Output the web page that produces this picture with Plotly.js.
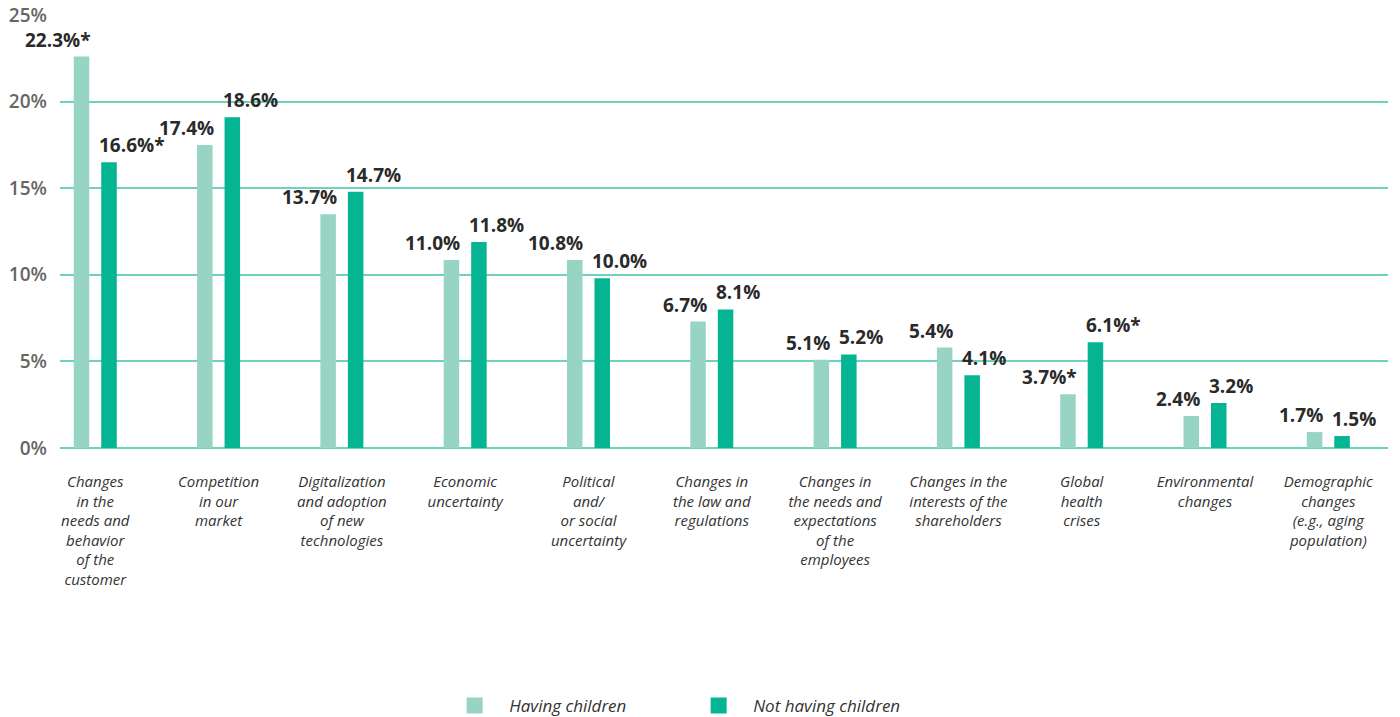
<!DOCTYPE html>
<html>
<head>
<meta charset="utf-8">
<script src="https://cdn.plot.ly/plotly-3.0.1.min.js"></script>
<style>
  html, body { margin: 0; padding: 0; background: #ffffff; }
  #chart { width: 1400px; height: 717px; }
</style>
</head>
<body>
<div id="chart"></div>
<script>
// ---- data ----
const categories = [
  "Changes<br>in the<br>needs and<br>behavior<br>of the<br>customer",
  "Competition<br>in our<br>market",
  "Digitalization<br>and adoption<br>of new<br>technologies",
  "Economic<br>uncertainty",
  "Political<br>and/<br>or social<br>uncertainty",
  "Changes in<br>the law and<br>regulations",
  "Changes in<br>the needs and<br>expectations<br>of the<br>employees",
  "Changes in the<br>interests of the<br>shareholders",
  "Global<br>health<br>crises",
  "Environmental<br>changes",
  "Demographic<br>changes<br>(e.g., aging<br>population)"
];
// bar heights as drawn in the picture (%)
const havingChildren    = [22.6, 17.5, 13.5, 10.85, 10.85, 7.3, 5.1, 5.8, 3.1, 1.85, 0.92];
const notHavingChildren = [16.5, 19.1, 14.8, 11.9, 9.8, 8.0, 5.4, 4.2, 6.1, 2.6, 0.69];
// value labels as printed
const havingLabels    = ["22.3%*", "17.4%", "13.7%", "11.0%", "10.8%", "6.7%", "5.1%", "5.4%", "3.7%*", "2.4%", "1.7%"];
const notHavingLabels = ["16.6%*", "18.6%", "14.7%", "11.8%", "10.0%", "8.1%", "5.2%", "4.1%", "6.1%*", "3.2%", "1.5%"];
const seriesNames = ["Having children", "Not having children"];
const yTickValues = [0, 5, 10, 15, 20, 25];
const yTickLabels = ["0%", "5%", "10%", "15%", "20%", "25%"];

// ---- styles ----
const lightColor = "#98d4c4";
const darkColor  = "#04b492";
const gridColor  = "#6fd2bc";
const FONT = "'Open Sans', Lato, 'Noto Sans', 'DejaVu Sans', sans-serif";

const traces = [
  { type: "bar", x: categories, y: havingChildren, marker: { color: lightColor }, showlegend: false, hoverinfo: "skip" },
  { type: "bar", x: categories, y: notHavingChildren, marker: { color: darkColor }, showlegend: false, hoverinfo: "skip" },
  { type: "scatter", mode: "markers", x: [null], y: [null], name: seriesNames[0],
    marker: { symbol: "square", size: 19, color: lightColor } },
  { type: "scatter", mode: "markers", x: [null], y: [null], name: seriesNames[1],
    marker: { symbol: "square", size: 19, color: darkColor } }
];

const labelFont = { family: FONT, size: 19, color: "#2a2a2a", weight: 700 };
const annotations = [];
categories.forEach((c, i) => {
  annotations.push({ x: c, y: havingChildren[i], xref: "x", yref: "y", text: havingLabels[i],
    showarrow: false, xanchor: "right", yanchor: "bottom", xshift: -3, yshift: 2, font: labelFont });
  annotations.push({ x: c, y: notHavingChildren[i], xref: "x", yref: "y", text: notHavingLabels[i],
    showarrow: false, xanchor: "left", yanchor: "bottom", xshift: 2, yshift: 2, font: labelFont });
});

const layout = {
  width: 1400, height: 717,
  margin: { l: 60, r: 12, t: 15, b: 269, autoexpand: false },
  paper_bgcolor: "#ffffff", plot_bgcolor: "#ffffff",
  font: { family: FONT },
  barmode: "group",
  bargap: 0.554,
  bargroupgap: 0.436,
  xaxis: {
    type: "category",
    range: [-0.286, 10.484],
    automargin: false,
    showgrid: false, zeroline: false, showline: false,
    ticks: "", tickangle: 0,
    tickfont: { family: FONT, size: 15, color: "#333333", style: "italic" },
    ticklabelstandoff: 23,
    fixedrange: true
  },
  yaxis: {
    range: [0, 25],
    automargin: false,
    tickvals: yTickValues, ticktext: yTickLabels,
    showgrid: true, gridcolor: gridColor, gridwidth: 2,
    zeroline: true, zerolinecolor: gridColor, zerolinewidth: 2,
    showline: false, ticks: "",
    tickfont: { family: FONT, size: 19, color: "#666666", weight: 600 },
    ticklabelstandoff: 12,
    fixedrange: true
  },
  legend: {
    orientation: "h",
    x: 0.47, xanchor: "center",
    y: -0.596, yanchor: "middle",
    itemwidth: 59,
    entrywidth: 170,
    font: { family: FONT, size: 17, color: "#333333", style: "italic" },
    itemclick: false, itemdoubleclick: false
  },
  annotations: annotations,
  showlegend: true
};

Plotly.newPlot("chart", traces, layout, { displayModeBar: false, staticPlot: true });
</script>
</body>
</html>
